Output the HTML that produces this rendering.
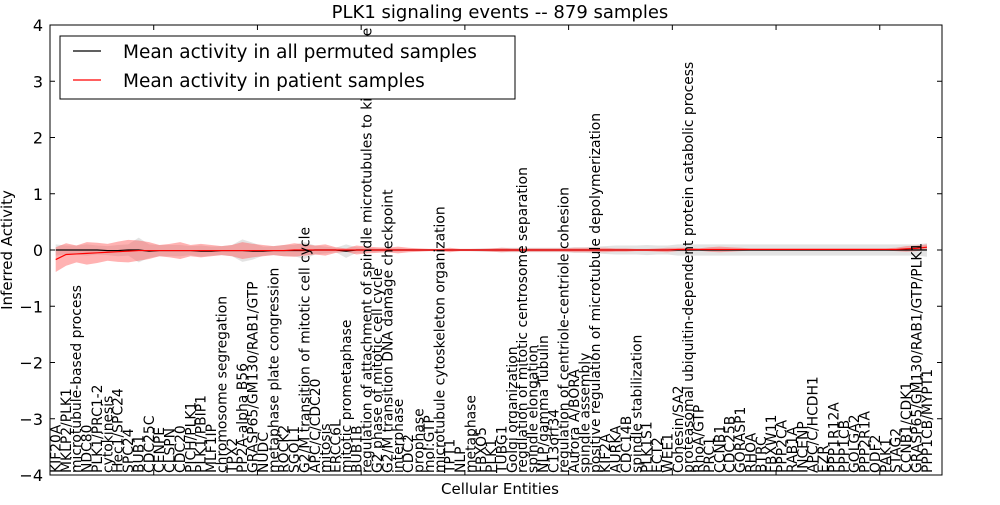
<!DOCTYPE html>
<html><head><meta charset="utf-8"><style>
body{margin:0;background:#fff;}
svg text{font-family:"DejaVu Sans","Liberation Sans",sans-serif;fill:#000;}
</style></head><body>
<svg id="chart" width="1000" height="500" xmlns="http://www.w3.org/2000/svg">
<g id="bands"></g><g id="lines"></g><g id="labels"></g>
<rect x="0" y="0" width="1000" height="22" fill="#fff"/>
<text x="500" y="18" font-size="18" text-anchor="middle">PLK1 signaling events -- 879 samples</text>
<g id="axes"></g>
<text x="500" y="494" font-size="15" text-anchor="middle">Cellular Entities</text>
<text transform="translate(12,250) rotate(-90)" font-size="15" text-anchor="middle">Inferred Activity</text>
<g>
<rect x="60" y="36" width="455" height="63" fill="#fff" stroke="#000" stroke-width="1"/>
<line x1="73" y1="51" x2="101" y2="51" stroke="#000" stroke-width="1.2"/>
<text x="123" y="58" font-size="18.5">Mean activity in all permuted samples</text>
<line x1="73" y1="80" x2="101" y2="80" stroke="#f00" stroke-width="1.2"/>
<text x="123" y="87" font-size="18.5">Mean activity in patient samples</text>
</g>
</svg>
<script>
const categories=["KIF20A","MKLP2/PLK1","microtubule-based process","NDC80","PLK1/PRC1-2","cytokinesis","Hec1/SPC24","SPC24","BUB1","CDC25C","CENPE","CLSPN","CDC20","PICH/PLK1","PLK1/PBIP1","MLF1IP","chromosome segregation","TPX2","PP2A-alpha B56","GRASP65/GM130/RAB1/GTP","NUDC","metaphase plate congression","ROCK2","SGOL1","G2/M transition of mitotic cell cycle","APC/C/CDC20","mitosis","ERCC6L","mitotic prometaphase","BUB1B","regulation of attachment of spindle microtubules to kinetochore","G2 phase of mitotic cell cycle","G2/M transition DNA damage checkpoint","interphase","CDC2","prophase","mol:GTP","microtubule cytoskeleton organization","TPT1","NLP","metaphase","FBXO5","PLK1","TUBG1","Golgi organization","regulation of mitotic centrosome separation","spindle elongation","NLP/gamma Tubulin","C13orf34","regulation of centriole-centriole cohesion","Aurora A/BORA","spindle assembly","positive regulation of microtubule depolymerization","KIF2A","AURKA","CDC14B","spindle stabilization","PLK1S1","ECT2","WEE1","Cohesin/SA2","proteasomal ubiquitin-dependent protein catabolic process","RhoA/GTP","PRC1","CCNB1","CDC25B","GORASP1","RHOA","BTRC","FBXW11","PPP2CA","RAB1A","INCENP","APC/C/HCDH1","EZR","PPP1R12A","PPP1CB","GOLGA2","PPP2R1A","ODF2","PAK1","STAG2","CCNB1/CDK1","GRASP65/GM130/RAB1/GTP/PLK1","PPP1CB/MYPT1"];
const redMean=[-0.17,-0.08,-0.07,-0.06,-0.05,-0.04,-0.03,-0.02,-0.01,-0.01,-0.01,-0.01,-0.01,-0.01,-0.01,-0.01,-0.01,-0.01,-0.01,-0.01,-0.01,-0.01,-0.01,0,0,0,0,0,0,0,0,0,0,0,0,0,0,0,0,0,0,0,0,0,0,0,0,0,0,0,0,0,0,0,0,0,0,0,0,0,0.01,0.01,0.01,0.01,0.01,0.01,0.01,0.01,0.01,0.01,0.01,0.01,0.01,0.01,0.01,0.01,0.01,0.01,0.01,0.01,0.01,0.01,0.02,0.03,0.05];
const redHalf=[0.22,0.2,0.15,0.2,0.18,0.15,0.18,0.2,0.18,0.15,0.1,0.12,0.15,0.1,0.12,0.1,0.08,0.1,0.15,0.12,0.1,0.08,0.1,0.12,0.1,0.08,0.1,0.05,0.03,0.08,0.06,0.05,0.04,0.06,0.04,0.03,0.02,0.02,0.04,0.02,0.02,0.02,0.03,0.04,0.03,0.03,0.03,0.03,0.03,0.03,0.04,0.04,0.04,0.04,0.03,0.03,0.02,0.02,0.03,0.04,0.03,0.03,0.02,0.04,0.05,0.04,0.03,0.02,0.02,0.02,0.02,0.02,0.02,0.02,0.02,0.02,0.02,0.02,0.02,0.02,0.02,0.03,0.05,0.05,0.05];
const grayMean=[0,0,0,0,0,-0.01,-0.01,0,0,-0.02,-0.01,-0.01,-0.01,-0.01,-0.02,-0.02,-0.01,-0.01,-0.01,-0.02,-0.02,-0.01,-0.01,-0.01,-0.01,0,0,0,-0.02,0,0,0,0,0,0,0,0,0,0,0,0,0,0,0,0,0,0,0,0,0,0,0,0,0,0,0,0,0,0,0,0,0,0,0,0,0,0,0,0,0,0,0,0,0,0,0,0,0,0,0,0,0,0,0,0];
const grayHalf=[0.1,0.08,0.08,0.1,0.08,0.08,0.1,0.1,0.22,0.12,0.1,0.1,0.1,0.08,0.1,0.08,0.08,0.1,0.2,0.15,0.08,0.08,0.1,0.1,0.15,0.08,0.06,0.04,0.12,0.05,0.04,0.03,0.03,0.03,0.02,0.02,0.02,0.02,0.02,0.02,0.02,0.03,0.03,0.04,0.04,0.04,0.04,0.04,0.04,0.04,0.05,0.05,0.06,0.07,0.08,0.08,0.08,0.09,0.08,0.08,0.1,0.1,0.1,0.1,0.1,0.1,0.1,0.1,0.1,0.1,0.1,0.1,0.1,0.1,0.1,0.1,0.1,0.1,0.1,0.1,0.1,0.1,0.1,0.1,0.12];
const yTicks=[-4,-3,-2,-1,0,1,2,3,4];
const xTicks=[10,20,30,40,50,60,70,80];
const NS="http://www.w3.org/2000/svg";
const L=50,R=942,T=25,B=475,XMAX=86;
const xs=v=>L+v*(R-L)/XMAX;
const xi=i=>xs(i+0.55);
const ys=v=>T+(4-v)*(B-T)/8;
function mk(tag,attrs,parent){const e=document.createElementNS(NS,tag);for(const k in attrs)e.setAttribute(k,attrs[k]);parent.appendChild(e);return e;}
const bands=document.getElementById('bands'),lines=document.getElementById('lines'),labels=document.getElementById('labels'),axes=document.getElementById('axes');
function band(mean,half,fill,op,name){
  let up=mean.map((m,i)=>xi(i)+','+ys(m+half[i]));
  let dn=mean.map((m,i)=>xi(i)+','+ys(m-half[i])).reverse();
  const p=mk('polygon',{points:up.concat(dn).join(' '),fill:fill,'fill-opacity':op},bands);
  
  
}
band(grayMean,grayHalf,'#cccccc',0.55,'permuted-band');
band(redMean,redHalf,'#f55',0.45,'patient-band');
const gl=mk('polyline',{points:grayMean.map((m,i)=>xi(i)+','+ys(m)).join(' '),fill:'none',stroke:'#000','stroke-width':1.2},lines);


const rl=mk('polyline',{points:redMean.map((m,i)=>xi(i)+','+ys(m)).join(' '),fill:'none',stroke:'#f00','stroke-width':1.2},lines);


categories.forEach((c,i)=>{
  const t=mk('text',{transform:`translate(${xi(i)+4.8},${B-2}) rotate(-90)`,'font-size':'13.9'},labels);
  t.textContent=c;
  
  
});
const fr=mk('rect',{x:L,y:T,width:R-L,height:B-T,fill:'none',stroke:'#000','stroke-width':1},axes);


yTicks.forEach(v=>{
  mk('line',{x1:L,x2:L+5,y1:ys(v),y2:ys(v),stroke:'#000'},axes);
  mk('line',{x1:R,x2:R-5,y1:ys(v),y2:ys(v),stroke:'#000'},axes);
  const t=mk('text',{x:L-7,y:ys(v)+6,'font-size':'16','text-anchor':'end'},axes);
  t.textContent=v<0?'\u2212'+(-v):String(v);
  
  
});
xTicks.forEach(v=>{
  mk('line',{x1:xs(v),x2:xs(v),y1:T,y2:T+5,stroke:'#000'},axes);
  mk('line',{x1:xs(v),x2:xs(v),y1:B,y2:B-5,stroke:'#000'},axes);
});
</script>
</body></html>
